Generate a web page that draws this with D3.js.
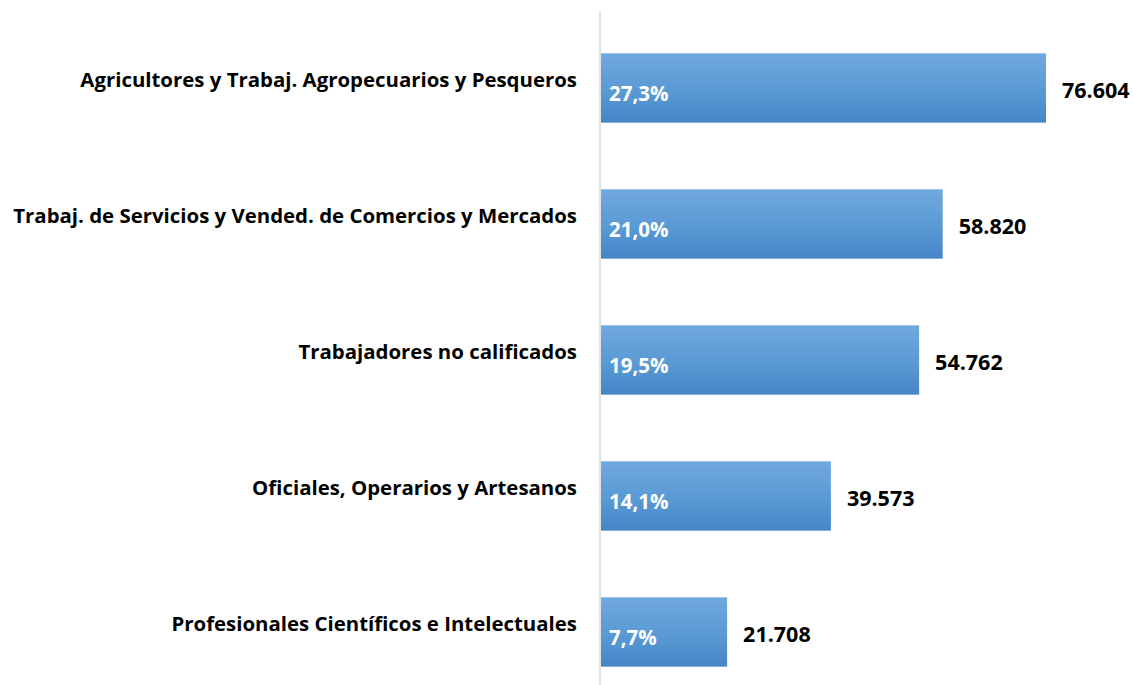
<!DOCTYPE html>
<html>
<head>
<meta charset="utf-8">
<script src="https://cdn.jsdelivr.net/npm/d3@7"></script>
<style>
  body { margin: 0; background: #fff; }
  svg text { font-family: "Open Sans", Lato, sans-serif; font-weight: bold; }
</style>
</head>
<body>
<svg width="1134" height="685"></svg>
<script>
// Chart data
var categories = [
    'Agricultores y Trabaj. Agropecuarios y Pesqueros',
    'Trabaj. de Servicios y Vended. de Comercios y Mercados',
    'Trabajadores no calificados',
    'Oficiales, Operarios y Artesanos',
    'Profesionales Científicos e Intelectuales'
];
var values = [76604, 58820, 54762, 39573, 21708];
var shares = ['27,3%', '21,0%', '19,5%', '14,1%', '7,7%'];

var rows = categories.map(function(c, i) {
    return {category: c, value: values[i], share: shares[i]};
});

var svg = d3.select('svg');
var axisX = 600;

// gradient like the office bar fill
var grad = svg.append('defs').append('linearGradient')
    .attr('id', 'barGrad')
    .attr('x1', 0).attr('y1', 0).attr('x2', 0).attr('y2', 1);
grad.append('stop').attr('offset', '0%').attr('stop-color', '#71a8de');
grad.append('stop').attr('offset', '50%').attr('stop-color', '#5b9bd5');
grad.append('stop').attr('offset', '100%').attr('stop-color', '#4686c8');

var xScale = d3.scaleLinear()
    .domain([0, 76604])
    .range([axisX + 1, 1046]);

var yScale = d3.scaleBand()
    .domain(categories)
    .range([20, 700])
    .paddingInner(0.49)
    .paddingOuter(0.245);

// vertical axis line
svg.append('line')
    .attr('x1', axisX).attr('x2', axisX)
    .attr('y1', 12).attr('y2', 685)
    .attr('stroke', '#d9d9d9')
    .attr('stroke-width', 1.5);

svg.selectAll('.bar')
    .data(rows)
    .enter()
    .append('rect')
    .attr('class', 'bar')
    .attr('x', xScale(0))
    .attr('y', d => yScale(d.category))
    .attr('width', d => xScale(d.value) - xScale(0))
    .attr('height', yScale.bandwidth())
    .attr('fill', 'url(#barGrad)');

// category labels
svg.selectAll('.cat')
    .data(rows)
    .enter()
    .append('text')
    .attr('class', 'cat')
    .attr('x', 577)
    .attr('y', d => yScale(d.category) + 28)
    .attr('text-anchor', 'end')
    .attr('dominant-baseline', 'middle')
    .style('font-size', '20.4px')
    .attr('fill', '#000')
    .text(d => d.category);

// percentage inside bars
svg.selectAll('.share')
    .data(rows)
    .enter()
    .append('text')
    .attr('class', 'share')
    .attr('x', xScale(0) + 8)
    .attr('y', d => yScale(d.category) + yScale.bandwidth() / 2 + 8)
    .attr('dominant-baseline', 'middle')
    .style('font-size', '20.5px')
    .attr('fill', '#fff')
    .text(d => d.share);

// values after bars
svg.selectAll('.val')
    .data(rows)
    .enter()
    .append('text')
    .attr('class', 'val')
    .attr('x', d => xScale(d.value) + 16)
    .attr('y', d => yScale(d.category) + yScale.bandwidth() / 2 + 4)
    .attr('dominant-baseline', 'middle')
    .style('font-size', '21.5px')
    .attr('fill', '#000')
    .text(d => d3.format(',')(d.value).replace(',', '.'));
</script>
</body>
</html>
